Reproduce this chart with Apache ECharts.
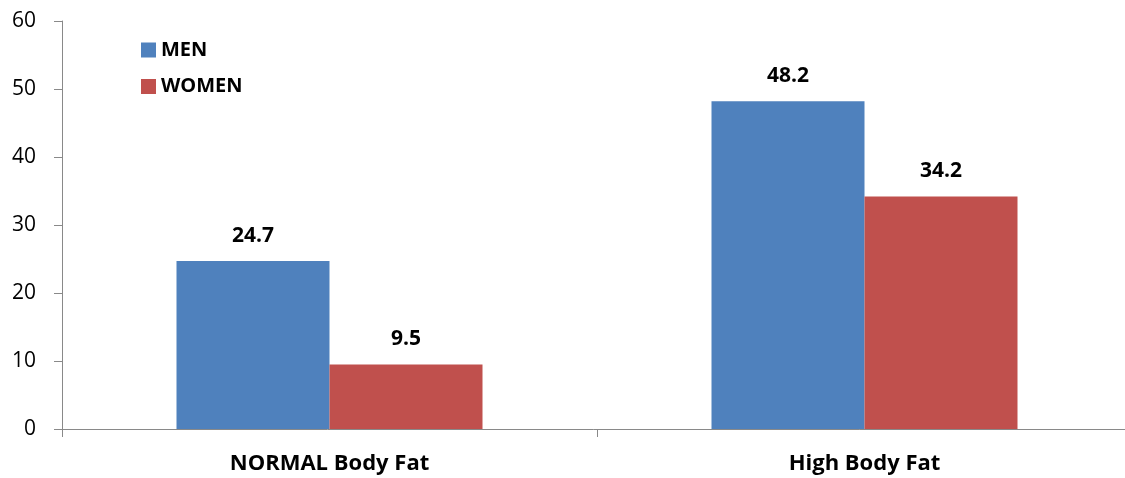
<!DOCTYPE html>
<html><head><meta charset="utf-8">
<script src="https://cdn.jsdelivr.net/npm/echarts@6/dist/echarts.min.js"></script>
<style>html,body{margin:0;padding:0;background:#fff}#c{width:1125px;height:478px}</style>
</head><body><div id="c"></div>
<script>
const categories = ['NORMAL Body Fat', 'High Body Fat'];
const menValues = [24.7, 48.2];
const womenValues = [9.5, 34.2];
const seriesNames = ['MEN', 'WOMEN'];
const FONT = 'Open Sans';
const chart = echarts.init(document.getElementById('c'));
const lbl = {show: true, position: 'top', distance: 15, fontFamily: FONT, fontWeight: 'bold', fontSize: 21, color: '#000', formatter: p => p.value.toFixed(1)};
chart.setOption({
  animation: false,
  textStyle: {fontFamily: FONT},
  grid: {left: 62, width: 1070, top: 21, bottom: 49, containLabel: false, outerBoundsMode: 'none'},
  legend: {orient: 'vertical', left: 141, top: 40, padding: 0, icon: 'rect', itemWidth: 15, itemHeight: 15, itemGap: 16.5,
    textStyle: {fontFamily: FONT, fontWeight: 'bold', fontSize: 20, color: '#000'}, data: seriesNames},
  xAxis: {type: 'category', data: categories,
    axisLine: {lineStyle: {color: '#898989', width: 1}},
    axisTick: {show: true, length: 8, lineStyle: {color: '#898989'}},
    axisLabel: {fontFamily: FONT, fontWeight: 'bold', fontSize: 22, color: '#000', margin: 24}},
  yAxis: {type: 'value', min: 0, max: 60, interval: 10,
    axisLine: {show: true, lineStyle: {color: '#898989', width: 1}},
    axisTick: {show: true, length: 8, lineStyle: {color: '#898989'}},
    splitLine: {show: false},
    axisLabel: {fontFamily: FONT, fontSize: 21, color: '#000', margin: 26}},
  series: [
    {name: seriesNames[0], type: 'bar', data: menValues, barWidth: 153, barGap: '0%', itemStyle: {color: '#4F81BD'}, label: lbl},
    {name: seriesNames[1], type: 'bar', data: womenValues, barWidth: 153, barGap: '0%', itemStyle: {color: '#C0504D'}, label: lbl}
  ]
});
</script></body></html>
